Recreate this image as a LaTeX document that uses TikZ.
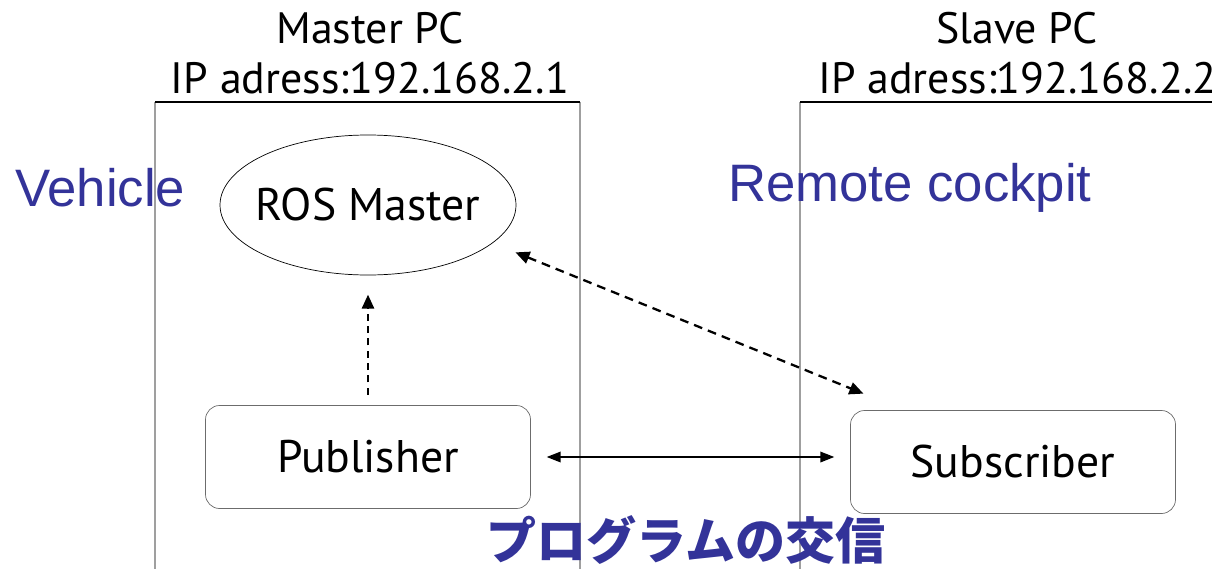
\documentclass[tikz,border=0pt]{standalone}
\usepackage{fontspec}
\setmainfont{PT Sans}
\newfontfamily\labfont{Liberation Sans}
\newfontfamily\jpfont{Noto Sans CJK JP}
\usetikzlibrary{arrows.meta,shapes.geometric}
\definecolor{labblue}{RGB}{51,51,153}
\begin{document}
\begin{tikzpicture}
  [x=0.02cm,y=-0.02cm,
   every node/.style={inner sep=0pt},
   title/.style={font=\fontsize{25}{25}\selectfont},
   blue label/.style={text=labblue,font=\labfont\fontsize{30}{30}\selectfont},
   proc/.style={draw=gray!85!black,rounded corners=8pt,minimum width=325*0.02cm,minimum height=103*0.02cm,font=\fontsize{26}{26}\selectfont},
   tip/.style={-{Triangle[length=8pt,width=7pt]}}]
\useasboundingbox (0,0) rectangle (1212,568);
% the two PCs
\draw[gray!75,line width=1.2pt] (155,580) -- (155,102);
\draw[gray!75,line width=1.2pt] (580,580) -- (580,102);
\draw[gray!75,line width=1.2pt] (800,580) -- (800,102);
\draw[line width=1pt] (155,102) -- (580,102);
\draw[line width=1pt] (800,102) -- (1230,102);
\node (mname)[title] at (370,28) {Master PC};
\node (mip)[title] at (370,78) {IP adress:192.168.2.1};
\node (sname)[title] at (1017,28) {Slave PC};
\node (sip)[title,anchor=west] at (818,78) {IP adress:192.168.2.2};
\node (veh)[blue label,anchor=west] at (15,188) {Vehicle};
\node (rc)[blue label,anchor=west] at (728,188) {Remote cockpit};
% processes
\node (rosm)[draw,ellipse,inner xsep=-4.5pt,minimum width=296*0.02cm,minimum height=140*0.02cm,font=\fontsize{26}{26}\selectfont] at (368,205) {ROS Master};
\node (pub)[proc] at (368,457) {Publisher};
\node (sub)[proc] at (1013,462) {Subscriber};
\node (comm)[text=labblue,font=\jpfont\bfseries\fontsize{28.5}{28.5}\selectfont] at (686,540) {プログラムの交信};
% links
\draw[tip,line width=1.2pt,dash pattern=on 4pt off 3pt,shorten >=11pt,shorten <=6pt] (pub) -- (rosm);
\draw[{Triangle[length=8pt,width=7pt]}-{Triangle[length=8pt,width=7pt]},line width=1.3pt,dash pattern=on 5pt off 3.5pt,shorten >=25pt,shorten <=14pt] (rosm.-17) -- ([xshift=1.08cm]sub.north west);
\draw[{Triangle[length=8pt,width=6pt]}-{Triangle[length=8pt,width=6pt]},line width=1pt,shorten >=9pt,shorten <=9pt] (pub) -- (sub.west |- pub);
\end{tikzpicture}
\end{document}
